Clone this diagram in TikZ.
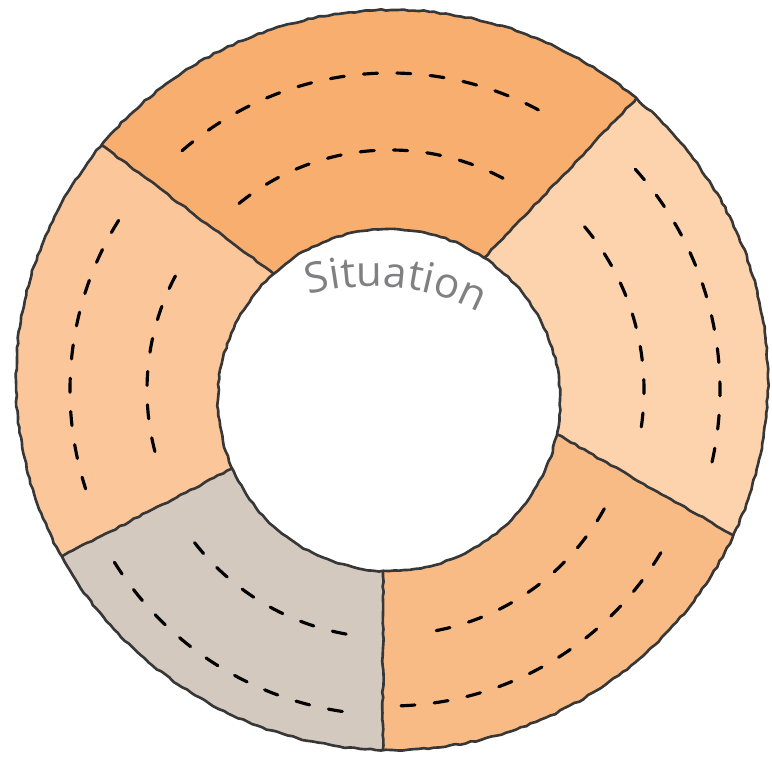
\documentclass[tikz,border=0pt]{standalone}
\usepackage{fontspec}
\newfontfamily\labelfont{Open Sans}
\definecolor{segTop}{RGB}{248,174,111}
\definecolor{segRight}{RGB}{252,211,172}
\definecolor{segLow}{RGB}{249,187,133}
\definecolor{segGray}{RGB}{211,201,191}
\definecolor{segLeft}{RGB}{251,199,154}
\definecolor{inkGray}{RGB}{55,55,55}
\definecolor{labelGray}{RGB}{128,128,130}
\usetikzlibrary{calc,decorations.pathmorphing,decorations.text}

\begin{document}
\begin{tikzpicture}[x=0.02cm, y=0.02cm,
    outline/.style={inkGray, line width=1.5pt, line join=round,
      decorate, decoration={random steps, segment length=3pt, amplitude=0.45pt}},
    stitch/.style={black, line width=1.8pt, line cap=round,
      dash pattern=on 8pt off 11pt}]
        \pgfmathsetseed{7}
        \useasboundingbox (0,0) rectangle (772,757);
        % Ring centres
        \coordinate (oc) at (392,377);
        \coordinate (ic) at (389,357);
        \coordinate (dc) at (390,367);
        % Divider ends
        \coordinate (o1) at ([shift={(oc)}]140.6:376 and 370);
        \coordinate (o2) at ([shift={(oc)}]49.5:376 and 370);
        \coordinate (o3) at ([shift={(oc)}]-24.8:376 and 370);
        \coordinate (o4) at ([shift={(oc)}]-91.4:376 and 370);
        \coordinate (o5) at ([shift={(oc)}]-151.5:376 and 370);
        \coordinate (i1) at ([shift={(ic)}]132.4:171);
        \coordinate (i2) at ([shift={(ic)}]56.2:171);
        \coordinate (i3) at ([shift={(ic)}]-11.5:171);
        \coordinate (i4) at ([shift={(ic)}]-92:171);
        \coordinate (i5) at ([shift={(ic)}]-156.4:171);
        % Segments
        \fill[segTop] (o1) arc[start angle=140.6, end angle=49.5, x radius=376, y radius=370]
          -- (i2) arc[start angle=56.2, end angle=132.4, radius=171] -- cycle;
        \fill[segRight] (o2) arc[start angle=49.5, end angle=-24.8, x radius=376, y radius=370]
          -- (i3) arc[start angle=-11.5, end angle=56.2, radius=171] -- cycle;
        \fill[segLow] (o3) arc[start angle=-24.8, end angle=-91.4, x radius=376, y radius=370]
          -- (i4) arc[start angle=-92, end angle=-11.5, radius=171] -- cycle;
        \fill[segGray] (o4) arc[start angle=-91.4, end angle=-151.5, x radius=376, y radius=370]
          -- (i5) arc[start angle=-156.4, end angle=-92, radius=171] -- cycle;
        \fill[segLeft] (o5) arc[start angle=-151.5, end angle=-219.4, x radius=376, y radius=370]
          -- (i1) arc[start angle=132.4, end angle=203.6, radius=171] -- cycle;
        % Stitching
        \foreach \a/\b/\r in {131/60/317, 129/60/240, 42/-13/330, 40/-9/254,
            -29/-80/245, -31/-88/316, 218/261/248, 212/263/325,
            148/198/320, 152/196/243}
          \draw[stitch] ([shift={(dc)}]\a:\r) arc[start angle=\a, end angle=\b, radius=\r];
        % Outlines
        \draw[outline] (oc) ellipse[x radius=376, y radius=370];
        \draw[outline] (ic) circle[radius=171];
        \foreach \k in {1,...,5}
          \draw[outline] (i\k) -- (o\k);
        % Label
        \path[decorate, decoration={text along path, text align=center,
            text={|\fontsize{24}{24}\labelfont\color{labelGray}|Situation}}]
          (290,455) .. controls (350,480) and (435,476) .. (496,434);
      \end{tikzpicture}
\end{document}
